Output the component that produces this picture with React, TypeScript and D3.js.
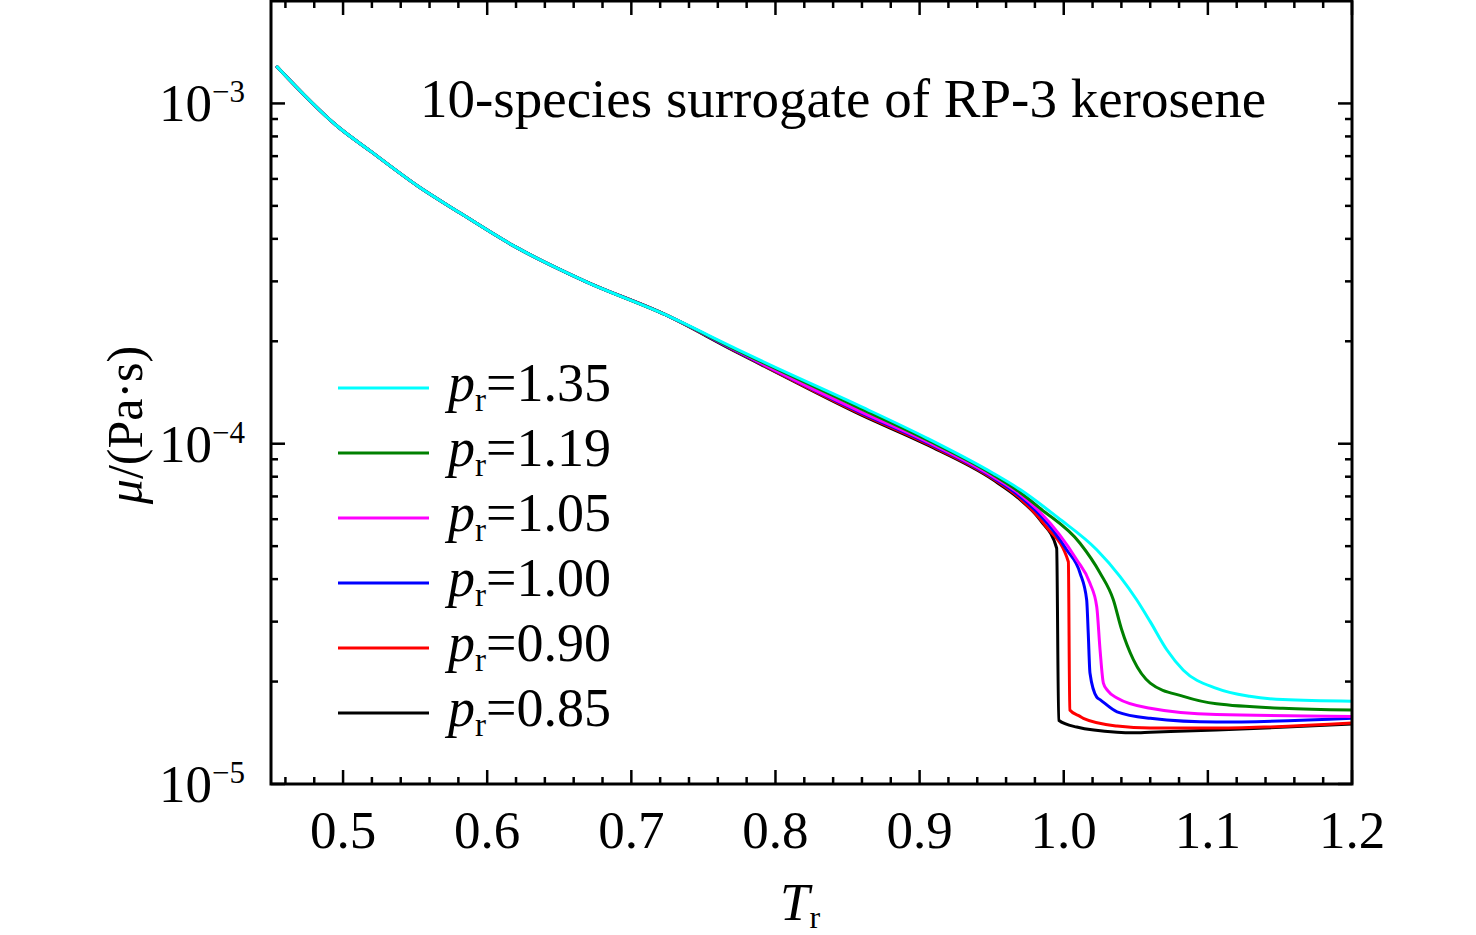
import * as d3 from 'd3';

// Reduced temperature / viscosity readings (log axis); all curves share the trunk below Tr ~ 0.75
const TR_TRUNK = [0.4537, 0.496, 0.519, 0.552, 0.581, 0.619, 0.668, 0.724];
const MU_TRUNK = [1.288e-3, 8.57e-4, 7.24e-4, 5.71e-4, 4.77e-4, 3.8e-4, 3.0e-4, 2.39e-4];

const TR_085 = [0.771, 0.79, 0.859, 0.905, 0.951, 0.97, 0.984, 0.9951, 0.9965, 1.009, 1.037, 1.048, 1.06, 1.106, 1.2];
const MU_085 = [1.877e-4, 1.708e-4, 1.217e-4, 9.93e-5, 7.83e-5, 6.84e-5, 5.94e-5, 4.93e-5, 1.54e-5, 1.47e-5, 1.42e-5, 1.415e-5, 1.42e-5, 1.44e-5, 1.5e-5];

const TR_090 = [0.771, 0.79, 0.859, 0.905, 0.951, 0.97, 0.988, 1.0032, 1.0042, 1.0113, 1.0136, 1.037, 1.06, 1.106, 1.2];
const MU_090 = [1.884e-4, 1.713e-4, 1.225e-4, 1.0e-4, 7.89e-5, 6.89e-5, 5.7e-5, 4.5e-5, 1.65e-5, 1.58e-5, 1.56e-5, 1.48e-5, 1.46e-5, 1.46e-5, 1.51e-5];

const TR_100 = [0.771, 0.79, 0.859, 0.905, 0.951, 0.97, 0.984, 1.002, 1.0113, 1.0159, 1.017, 1.0182, 1.0229, 1.0252, 1.037, 1.06, 1.106, 1.2];
const MU_100 = [1.89e-4, 1.719e-4, 1.234e-4, 1.007e-4, 7.94e-5, 6.98e-5, 6.14e-5, 4.88e-5, 4.17e-5, 3.48e-5, 2.78e-5, 2.12e-5, 1.8e-5, 1.77e-5, 1.63e-5, 1.56e-5, 1.52e-5, 1.56e-5];

const TR_105 = [0.771, 0.79, 0.859, 0.905, 0.951, 0.97, 0.984, 1.009, 1.0182, 1.0229, 1.0252, 1.0275, 1.0305, 1.037, 1.06, 1.106, 1.2];
const MU_105 = [1.897e-4, 1.724e-4, 1.242e-4, 1.014e-4, 8.0e-5, 7.08e-5, 6.27e-5, 4.56e-5, 3.89e-5, 3.32e-5, 2.48e-5, 1.98e-5, 1.88e-5, 1.79e-5, 1.67e-5, 1.6e-5, 1.58e-5];

const TR_119 = [0.771, 0.79, 0.859, 0.905, 0.951, 0.97, 0.984, 1.0113, 1.0252, 1.0344, 1.04, 1.0483, 1.06, 1.083, 1.106, 1.152, 1.2];
const MU_119 = [1.903e-4, 1.742e-4, 1.268e-4, 1.027e-4, 8.11e-5, 7.18e-5, 6.44e-5, 5.1e-5, 4.17e-5, 3.48e-5, 2.86e-5, 2.32e-5, 1.98e-5, 1.81e-5, 1.72e-5, 1.67e-5, 1.65e-5];

const TR_135 = [0.771, 0.79, 0.859, 0.905, 0.951, 0.97, 0.996, 1.0229, 1.0391, 1.0506, 1.06, 1.0715, 1.083, 1.106, 1.129, 1.152, 1.2];
const MU_135 = [1.916e-4, 1.754e-4, 1.288e-4, 1.039e-4, 8.19e-5, 7.32e-5, 6.06e-5, 4.88e-5, 4.07e-5, 3.48e-5, 3.0e-5, 2.48e-5, 2.16e-5, 1.91e-5, 1.81e-5, 1.77e-5, 1.75e-5];

// drawn bottom-up so cyan sits on top, legend lists them top-down
const SERIES = [
  { label: '0.85', color: '#000000', tr: TR_085, mu: MU_085 },
  { label: '0.90', color: '#ff0000', tr: TR_090, mu: MU_090 },
  { label: '1.00', color: '#0000ff', tr: TR_100, mu: MU_100 },
  { label: '1.05', color: '#ff00ff', tr: TR_105, mu: MU_105 },
  { label: '1.19', color: '#008000', tr: TR_119, mu: MU_119 },
  { label: '1.35', color: '#00ffff', tr: TR_135, mu: MU_135 },
];

const X_MAJOR = [0.5, 0.6, 0.7, 0.8, 0.9, 1.0, 1.1, 1.2];
const X_LABELS = ['0.5', '0.6', '0.7', '0.8', '0.9', '1.0', '1.1', '1.2'];
const X_MINOR = [0.46, 0.48, 0.52, 0.54, 0.56, 0.58, 0.62, 0.64, 0.66, 0.68, 0.72, 0.74, 0.76, 0.78,
  0.82, 0.84, 0.86, 0.88, 0.92, 0.94, 0.96, 0.98, 1.02, 1.04, 1.06, 1.08, 1.12, 1.14, 1.16, 1.18];
const Y_MAJOR = [1e-5, 1e-4, 1e-3];
const Y_EXP = ['\u22125', '\u22124', '\u22123'];
const Y_MINOR = [2e-5, 3e-5, 4e-5, 5e-5, 6e-5, 7e-5, 8e-5, 9e-5,
  2e-4, 3e-4, 4e-4, 5e-4, 6e-4, 7e-4, 8e-4, 9e-4];

const W = 1476;
const H = 935;
const m = { left: 271, right: 1352, top: 1, bottom: 784 };
const FONT = '"Liberation Serif", "Times New Roman", serif';

export default function App() {
  const x = d3.scaleLinear().domain([0.45, 1.2]).range([m.left, m.right]);
  const y = d3.scaleLog().domain([1e-5, 2e-3]).range([m.bottom, m.top]);

  const line = d3.line<[number, number]>()
    .x(d => x(d[0]))
    .y(d => y(d[1]))
    .curve(d3.curveMonotoneX);

  const paths = SERIES.map(s => {
    const pts: [number, number][] = TR_TRUNK.map((t, i) => [t, MU_TRUNK[i]] as [number, number])
      .concat(s.tr.map((t, i) => [t, s.mu[i]] as [number, number]));
    return { ...s, d: line(pts) || '' };
  });

  const legend = [...SERIES].reverse();
  const majLen = 14;
  const minLen = 7;

  return (
    <div>
      <style>{'body{margin:0}'}</style>
      <svg width={W} height={H} style={{ display: 'block', background: '#fff' }} fontFamily={FONT}>
        {paths.map(p => (
          <path key={p.label} d={p.d} fill="none" stroke={p.color} strokeWidth={3} strokeLinejoin="round" />
        ))}

        {/* ticks, inward on all four sides */}
        <g stroke="#000" strokeWidth={2.5}>
          {X_MAJOR.map(v => (
            <g key={'xM' + v}>
              <line x1={x(v)} x2={x(v)} y1={m.bottom} y2={m.bottom - majLen} />
              <line x1={x(v)} x2={x(v)} y1={m.top} y2={m.top + majLen} />
            </g>
          ))}
          {X_MINOR.map(v => (
            <g key={'xm' + v}>
              <line x1={x(v)} x2={x(v)} y1={m.bottom} y2={m.bottom - minLen} />
              <line x1={x(v)} x2={x(v)} y1={m.top} y2={m.top + minLen} />
            </g>
          ))}
          {Y_MAJOR.map(v => (
            <g key={'yM' + v}>
              <line x1={m.left} x2={m.left + majLen} y1={y(v)} y2={y(v)} />
              <line x1={m.right} x2={m.right - majLen} y1={y(v)} y2={y(v)} />
            </g>
          ))}
          {Y_MINOR.map(v => (
            <g key={'ym' + v}>
              <line x1={m.left} x2={m.left + minLen} y1={y(v)} y2={y(v)} />
              <line x1={m.right} x2={m.right - minLen} y1={y(v)} y2={y(v)} />
            </g>
          ))}
        </g>
        <rect x={m.left} y={m.top} width={m.right - m.left} height={m.bottom - m.top}
          fill="none" stroke="#000" strokeWidth={3} />

        {X_MAJOR.map((v, i) => (
          <text key={'xl' + v} x={x(v)} y={848} textAnchor="middle" fontSize={53}>{X_LABELS[i]}</text>
        ))}
        {Y_MAJOR.map((v, i) => (
          <text key={'yl' + v} x={245} y={y(v) + 18} textAnchor="end" fontSize={53}>
            10<tspan fontSize={31} dy={-19}>{Y_EXP[i]}</tspan>
          </text>
        ))}

        <text x={800} y={920} textAnchor="middle" fontSize={53}>
          <tspan fontStyle="italic">T</tspan><tspan fontSize={32} dy={8}>r</tspan>
        </text>
        <text transform="translate(142,425) rotate(-90)" textAnchor="middle" fontSize={50}>
          <tspan fontStyle="italic">μ</tspan>/(Pa·s)
        </text>

        <text x={420} y={117} fontSize={55}>10-species surrogate of RP-3 kerosene</text>

        {legend.map((s, i) => {
          const ly = 388 + i * 65;
          return (
            <g key={'lg' + s.label}>
              <line x1={338} x2={429} y1={ly} y2={ly} stroke={s.color} strokeWidth={3} />
              <text x={448} y={ly + 13} fontSize={54}>
                <tspan fontStyle="italic">p</tspan>
                <tspan fontSize={33} dy={10}>r</tspan>
                <tspan dy={-10}>={s.label}</tspan>
              </text>
            </g>
          );
        })}
      </svg>
    </div>
  );
}
